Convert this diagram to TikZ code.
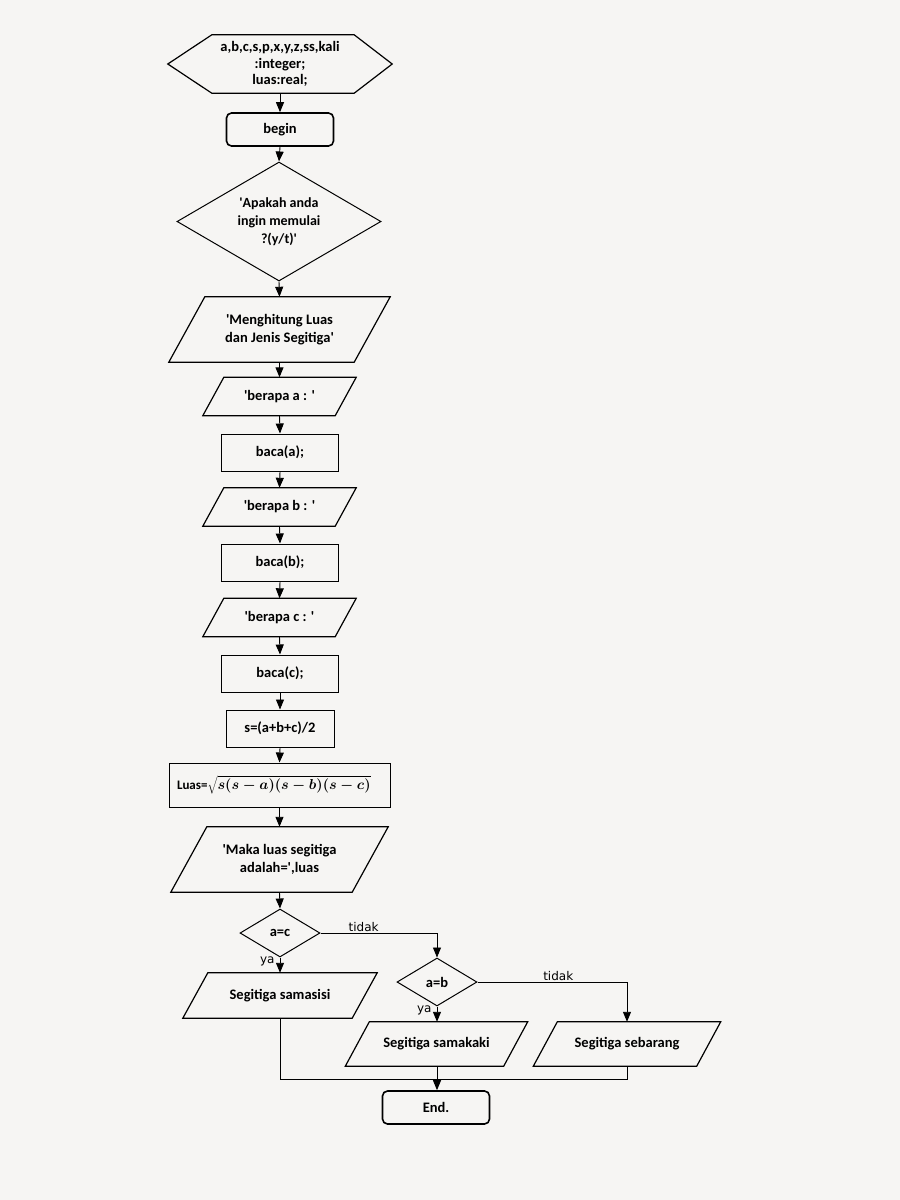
\documentclass[tikz,border=0pt]{standalone}
\usepackage{fontspec}
\usepackage{bm}
\setmainfont{Carlito}
\newfontfamily\labelfont{DejaVu Sans}
\usetikzlibrary{arrows.meta, shapes.geometric}
\definecolor{kertas}{HTML}{F6F5F3}
\newcommand{\kutip}{\textquotesingle}
% jajaran genjang di sekeliling node #1, geser setengah miring #2
\newcommand{\jajar}[2]{\draw[tepi] ([xshift=#2]#1.north west) -- ([xshift=#2]#1.north east)
  -- ([xshift=-#2]#1.south east) -- ([xshift=-#2]#1.south west) -- cycle;}
\tikzset{
x=1pt, y=-1pt, % one unit is one pixel of the reference
>={Triangle[width=8pt, length=10pt]}, % filled arrow heads
every node/.style={font=\fontsize{14.5}{18}\selectfont\bfseries, align=center},
mulai/.style={draw, rounded corners=5pt, line width=1.6pt, minimum width=107pt, minimum height=33pt},
proses/.style={draw, line width=1pt, minimum width=117pt, minimum height=37pt},
keputusan/.style={draw, diamond, shape aspect=1.7, line width=1pt, inner sep=0pt},
io/.style={inner sep=0pt},
tepi/.style={line width=1.2pt},
garis/.style={line width=0.9pt},
ket/.style={font=\labelfont\fontsize{12}{14}\selectfont, inner sep=1pt},
}
\begin{document}
\begin{tikzpicture}
\fill[kertas] (0,0) rectangle (900,1200);
\useasboundingbox (0,0) rectangle (900,1200);

% deklarasi
\node[minimum width=224pt, minimum height=58pt, font=\fontsize{14.5}{16.5}\selectfont\bfseries] (deklarasi) at (280,64) {a,b,c,s,p,x,y,z,ss,kali\\:integer;\\luas:real;};
\draw[tepi] (deklarasi.west) -- ([xshift=44pt]deklarasi.north west) -- ([xshift=-38pt]deklarasi.north east)
  -- (deklarasi.east) -- ([xshift=-38pt]deklarasi.south east) -- ([xshift=44pt]deklarasi.south west) -- cycle;
\node[mulai] (begin) at (280,129.5) {begin};
\node[keputusan, minimum width=204pt, minimum height=119pt, font=\fontsize{14}{18}\selectfont\bfseries] (tanya) at (279,221.5) {\kutip Apakah anda\\ingin memulai\\?(y/t)\kutip};
\node[io, minimum width=185pt, minimum height=65pt] (judul) at (279.5,329.5) {\kutip Menghitung Luas\\dan Jenis Segitiga\kutip};
\jajar{judul}{18pt}

% input sisi
\node[io, minimum width=132pt, minimum height=38pt] (tanyaA) at (279.5,396.5) {\kutip berapa a : \kutip};
\jajar{tanyaA}{10.5pt}
\node[proses] (bacaA) at (280,452.5) {baca(a);};
\node[io, minimum width=132pt, minimum height=38pt] (tanyaB) at (279.5,507) {\kutip berapa b : \kutip};
\jajar{tanyaB}{10.5pt}
\node[proses] (bacaB) at (280,562.5) {baca(b);};
\node[io, minimum width=132pt, minimum height=38pt] (tanyaC) at (279.5,617.5) {\kutip berapa c : \kutip};
\jajar{tanyaC}{10.5pt}
\node[proses] (bacaC) at (280,673.5) {baca(c);};

% hitung
\node[proses, minimum width=108pt] (hitungS) at (280,728.5) {s=(a+b+c)/2};
\node[proses, minimum width=221pt, minimum height=44pt, text width=205pt, align=left,
  font=\fontsize{13}{17}\selectfont\bfseries\boldmath] (luas) at (279.5,785)
  {Luas={\fontsize{13.8}{17}\selectfont$\sqrt{s(s-a)(s-b)(s-c)}$}};
\node[io, minimum width=181pt, minimum height=65pt] (hasil) at (279.5,859.5) {\kutip Maka luas segitiga\\adalah=\kutip,luas};
\jajar{hasil}{18pt}

% jenis segitiga
\node[keputusan, minimum width=80pt, minimum height=48pt] (cekAC) at (280,933) {a=c};
\node[io, minimum width=169pt, minimum height=45pt] (samasisi) at (280,995.5) {Segitiga samasisi};
\jajar{samasisi}{12.5pt}
\node[keputusan, minimum width=80pt, minimum height=48pt] (cekAB) at (437,982) {a=b};
\node[io, minimum width=158pt, minimum height=44pt] (samakaki) at (436.5,1044) {Segitiga samakaki};
\jajar{samakaki}{12pt}
\node[io, minimum width=163pt, minimum height=44pt] (sebarang) at (627,1044) {Segitiga sebarang};
\jajar{sebarang}{12pt}
\node[mulai] (selesai) at (436,1107.5) {End.};
\coordinate (gabung) at (437,1079);

\draw[garis, ->] (deklarasi.south) -- (begin.north);
\draw[garis, ->] (begin.south) -- (tanya.north);
\draw[garis, ->] (tanya.south) -- (judul.north);
\draw[garis, ->] (judul.south) -- (tanyaA.north);
\draw[garis, ->] (tanyaA.south) -- (bacaA.north);
\draw[garis, ->] (bacaA.south) -- (tanyaB.north);
\draw[garis, ->] (tanyaB.south) -- (bacaB.north);
\draw[garis, ->] (bacaB.south) -- (tanyaC.north);
\draw[garis, ->] (tanyaC.south) -- (bacaC.north);
\draw[garis, ->] (bacaC.south) -- (hitungS.north);
\draw[garis, ->] (hitungS.south) -- (luas.north);
\draw[garis, ->] (luas.south) -- (hasil.north);
\draw[garis, ->] (hasil.south) -- (cekAC.north);
\draw[garis, ->] (cekAC.south) -- node[ket, left, pos=0.25, xshift=-4pt] {ya} (samasisi.north);
\draw[garis, ->] (cekAC.east) -| node[ket, above, pos=0.185] {tidak} (cekAB.north);
\draw[garis, ->] (cekAB.south) -- node[ket, left, pos=0.25, xshift=-4pt] {ya} (cekAB.south |- samakaki.north);
\draw[garis, ->] (cekAB.east) -| node[ket, above, pos=0.27] {tidak} (sebarang.north);
\draw[garis] (samasisi.south) |- (gabung);
\draw[garis] (sebarang.south) |- (gabung);
\draw[garis, ->] (cekAB.south |- samakaki.south) -- (cekAB.south |- selesai.north);
\end{tikzpicture}
\end{document}
